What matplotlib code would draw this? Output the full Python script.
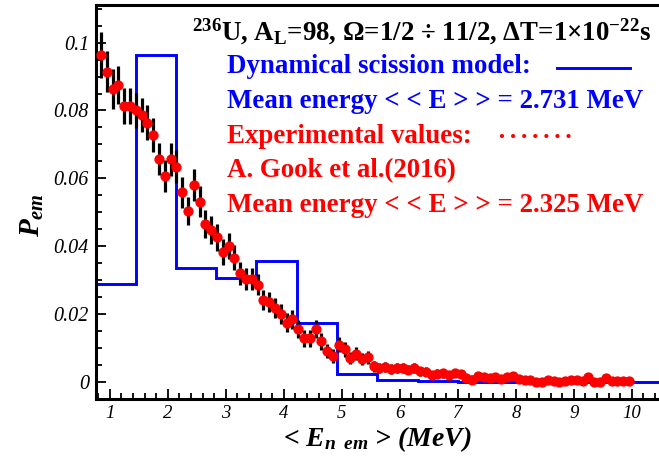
import matplotlib
matplotlib.use("Agg")
import matplotlib.pyplot as plt
from matplotlib.lines import Line2D
from matplotlib.ticker import MultipleLocator

# emitted neutron energy spectrum, 236U, A_L = 98
# model histogram (dynamical scission model)
bin_edges = [0.77, 1.46, 2.15, 2.84, 3.53, 4.23, 4.92, 5.61, 6.31, 7.00,
             7.69, 8.38, 9.07, 9.77, 10.46, 11.15]
model_p = [0.0290, 0.0965, 0.0337, 0.0305, 0.0357, 0.0175, 0.0023, 0.0005,
           0.0003, 0.0001, 0.0001, 0.0001, 0.0001, 0.0001, 0.0001]

# experimental points, A. Gook et al. (2016)
exp_e = [0.85, 0.95, 1.05, 1.15, 1.25, 1.35, 1.45, 1.55, 1.65, 1.75,
         1.85, 1.95, 2.05, 2.15, 2.25, 2.35, 2.45, 2.55, 2.65, 2.75,
         2.85, 2.95, 3.05, 3.15, 3.25, 3.35, 3.45, 3.55, 3.65, 3.75,
         3.85, 3.95, 4.05, 4.15, 4.25, 4.35, 4.45, 4.55, 4.65, 4.75,
         4.85, 4.95, 5.05, 5.15, 5.25, 5.35, 5.45, 5.55, 5.65, 5.75,
         5.85, 5.95, 6.05, 6.15, 6.25, 6.35, 6.45, 6.55, 6.65, 6.75,
         6.85, 6.95, 7.05, 7.15, 7.25, 7.35, 7.45, 7.55, 7.65, 7.75,
         7.85, 7.95, 8.05, 8.15, 8.25, 8.35, 8.45, 8.55, 8.65, 8.75,
         8.85, 8.95, 9.05, 9.15, 9.25, 9.35, 9.45, 9.55, 9.65, 9.75,
         9.85, 9.95]
exp_p = [0.0964, 0.0914, 0.0863, 0.0875, 0.0813, 0.0813, 0.0800, 0.0788, 0.0764, 0.0728,
         0.0657, 0.0607, 0.0656, 0.0634, 0.0559, 0.0503, 0.0580, 0.0531, 0.0465, 0.0448,
         0.0426, 0.0384, 0.0400, 0.0366, 0.0320, 0.0303, 0.0303, 0.0287, 0.0241, 0.0236,
         0.0218, 0.0200, 0.0175, 0.0185, 0.0155, 0.0128, 0.0128, 0.0155, 0.0120, 0.0091,
         0.0077, 0.0110, 0.0096, 0.0070, 0.0083, 0.0068, 0.0072, 0.0046, 0.0041, 0.0044,
         0.0039, 0.0041, 0.0041, 0.0036, 0.0042, 0.0031, 0.0030, 0.0021, 0.0024, 0.0025,
         0.0019, 0.0025, 0.0022, 0.0011, 0.0007, 0.0017, 0.0014, 0.0011, 0.0014, 0.0008,
         0.0014, 0.0018, 0.0009, 0.0007, 0.0007, 0.0001, 0.0001, 0.0007, 0.0004, 0.0000,
         0.0003, 0.0007, 0.0006, 0.0003, 0.0015, 0.0001, 0.0001, 0.0011, 0.0002, 0.0002,
         0.0002, 0.0002]
exp_err = [0.0067, 0.0060, 0.0059, 0.0057, 0.0052, 0.0052, 0.0052, 0.0050, 0.0052, 0.0050,
           0.0047, 0.0048, 0.0048, 0.0049, 0.0046, 0.0042, 0.0048, 0.0046, 0.0042, 0.0041,
           0.0040, 0.0038, 0.0039, 0.0037, 0.0034, 0.0033, 0.0033, 0.0032, 0.0030, 0.0030,
           0.0029, 0.0029, 0.0028, 0.0028, 0.0026, 0.0025, 0.0025, 0.0026, 0.0025, 0.0022,
           0.0021, 0.0023, 0.0022, 0.0018, 0.0019, 0.0017, 0.0018, 0.0016, 0.0015, 0.0015,
           0.0015, 0.0015, 0.0015, 0.0014, 0.0015, 0.0014, 0.0014, 0.0012, 0.0013, 0.0013,
           0.0012, 0.0012, 0.0012, 0.0012, 0.0012, 0.0012, 0.0012, 0.0012, 0.0012, 0.0011,
           0.0011, 0.0011, 0.0011, 0.0011, 0.0011, 0.0011, 0.0011, 0.0011, 0.0011, 0.0011,
           0.0010, 0.0010, 0.0010, 0.0010, 0.0010, 0.0010, 0.0010, 0.0010, 0.0010, 0.0010,
           0.0010, 0.0010]

x_ticks = [1, 2, 3, 4, 5, 6, 7, 8, 9, 10]
y_ticks = [0, 0.02, 0.04, 0.06, 0.08, 0.1]

title_txt = r"$^{236}$U, A$_{\mathrm{L}}$=98, Ω=1/2 ÷ 11/2, ΔT=1×10$^{\mathrm{-22}}$s"
blue_lines = ["Dynamical scission model:", "Mean energy < < E > > = 2.731 MeV"]
red_lines = ["Experimental values:", "A. Gook et al.(2016)",
             "Mean energy < < E > > = 2.325 MeV"]

serif = ["Liberation Serif", "DejaVu Serif"]
plt.rcParams["font.family"] = serif
plt.rcParams["mathtext.fontset"] = "custom"
plt.rcParams["mathtext.rm"] = "Liberation Serif:bold"
plt.rcParams["mathtext.bf"] = "Liberation Serif:bold"
plt.rcParams["mathtext.it"] = "Liberation Serif:bold:italic"

W, H = 659, 459
fig = plt.figure(figsize=(W / 100, H / 100), dpi=100)
ax = fig.add_axes([96 / W, 1 - 398.5 / H, 566 / W, 393.5 / H])

ax.stairs(model_p, bin_edges, baseline=0, color="blue", lw=2.1, zorder=2)
ax.errorbar(exp_e, exp_p, yerr=exp_err, fmt="none", ecolor="black",
            elinewidth=2.3, capsize=0, zorder=3)
ax.plot(exp_e, exp_p, "o", color="red", mec="red", ms=6.4, zorder=4)

ax.set_xlim(0.764, 10.52)
ax.set_ylim(-0.0049, 0.1111)
ax.set_xticks(x_ticks)
ax.set_xticklabels([str(t) for t in x_ticks])
ax.set_yticks(y_ticks)
ax.set_yticklabels(["{:g}".format(t) for t in y_ticks])
ax.xaxis.set_minor_locator(MultipleLocator(0.2))
ax.yaxis.set_minor_locator(MultipleLocator(0.005))
ax.tick_params(which="both", direction="in", top=False, right=False, width=1.3)
ax.tick_params(which="major", length=7)
ax.tick_params(which="minor", length=4)
ax.tick_params(axis="x", pad=5, labelsize=13.5)
ax.tick_params(axis="y", pad=5, labelsize=14.5)
for lab in ax.get_xticklabels() + ax.get_yticklabels():
    lab.set_fontstyle("italic")
for sp in ax.spines.values():
    sp.set_linewidth(2.2)

fig.text(377 / W, 1 - 446 / H, r"< $E_{n\;\;em}$ > (MeV)", ha="center",
         va="baseline", fontsize=20, fontweight="bold", fontstyle="italic")
fig.text(32 / W, 1 - 215 / H, r"$P_{em}$", rotation=90, ha="center",
         va="center", fontsize=21, fontweight="bold", fontstyle="italic")

fs = 19.4
fig.text(192 / W, 1 - 40 / H, title_txt, ha="left", va="baseline",
         fontsize=fs, fontweight="bold", color="black")
base_y = [73.3, 108.3, 142.7, 176.7, 211.7]
texts = [(t, "blue") for t in blue_lines] + [(t, "red") for t in red_lines]
for (t, c), yb in zip(texts, base_y):
    fig.text(226.7 / W, 1 - yb / H, t, ha="left", va="baseline",
             fontsize=fs, fontweight="bold", color=c)

fig.add_artist(Line2D([556.7 / W, 630 / W], [1 - 68.3 / H, 1 - 68.3 / H],
                      color="blue", lw=2.1))
fig.add_artist(Line2D([501.7 / W, 571 / W], [1 - 136 / H, 1 - 136 / H],
                      color="red", lw=3, ls=(0, (0.01, 2.65)),
                      dash_capstyle="round"))

fig.savefig("out.png", dpi=100)
